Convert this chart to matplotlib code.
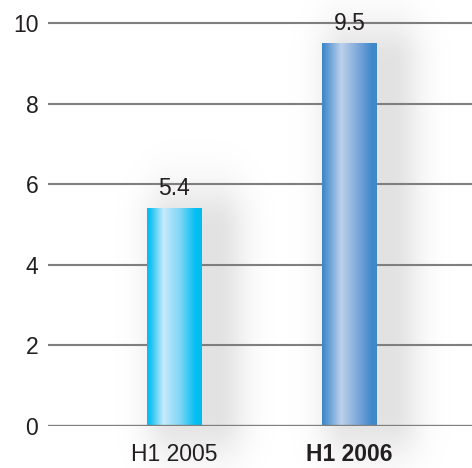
import numpy as np
import matplotlib
matplotlib.use('Agg')
import matplotlib.pyplot as plt
from matplotlib.colors import LinearSegmentedColormap

categories = ['H1 2005', 'H1 2006']
values = [5.4, 9.5]
value_labels = ['5.4', '9.5']
yticks = [0, 2, 4, 6, 8, 10]

plt.rcParams['font.family'] = ['Liberation Sans', 'DejaVu Sans']

bar_cmaps = [
    LinearSegmentedColormap.from_list('b1', [(0, '#00bdf2'), (0.08, '#20c4f3'), (0.3, '#c8ebfa'),
                                             (0.6, '#7fd6f6'), (0.88, '#05bef2'), (1, '#00bcf1')]),
    LinearSegmentedColormap.from_list('b2', [(0, '#3a86c8'), (0.1, '#5c9ad2'), (0.35, '#bdd1eb'),
                                             (0.65, '#7ea9db'), (0.9, '#4289cb'), (1, '#3e88ca')]),
]

fig = plt.figure(figsize=(4.72, 4.68), dpi=100)
ax = fig.add_axes((48 / 472, (468 - 426) / 468, 424 / 472, 0.92))
width = 0.31
ax.set_xlim(-0.72, 1.70)
ax.set_ylim(0, 0.92 * 468 / 40.3)

# soft grey shadow behind bars
xs = np.linspace(-0.72, 1.70, 500)
ys = np.linspace(-1.5, 11.5, 400)
X, Y = np.meshgrid(xs, ys)
shade = np.zeros_like(X)
for i, v in enumerate(values):
    cx = i + 0.12
    dx = np.maximum(np.abs(X - cx) - 0.12, 0)
    dy = np.maximum(np.maximum(Y - (v - 0.5), -Y + 0.3), 0)
    shade = np.maximum(shade, np.exp(-(dx / 0.17) ** 2 - (dy / 1.1) ** 2))
rgba = np.zeros(X.shape + (4,))
rgba[..., :3] = 0.55
rgba[..., 3] = shade * 0.25
ax.imshow(rgba, extent=(xs[0], xs[-1], ys[0], ys[-1]), origin='lower', aspect='auto',
          zorder=0.5, interpolation='bilinear', clip_on=False)

for y in yticks[1:]:
    ax.axhline(y, color='#7f7f80', lw=1.5, zorder=1)
ax.axhline(0, color='#7f7f80', lw=2.4, zorder=3)

grad = np.linspace(0, 1, 256).reshape(1, -1)
for i, v in enumerate(values):
    ax.imshow(grad, cmap=bar_cmaps[i], extent=(i - width / 2, i + width / 2, 0, v),
              aspect='auto', zorder=2, interpolation='bilinear')
    ax.text(i, v + 0.2, value_labels[i], ha='center', va='bottom', fontsize=16.5, color='#231f20')

ax.set_yticks(yticks)
ax.set_yticklabels([str(t) for t in yticks], fontsize=16.5, color='#231f20')
ax.set_xticks(range(len(categories)))
ax.set_xticklabels(categories, fontsize=16.5, color='#231f20')
ax.get_xticklabels()[1].set_fontweight('bold')
ax.tick_params(length=0)
ax.tick_params(axis='y', pad=7)
ax.tick_params(axis='x', pad=12)
for s in ax.spines.values():
    s.set_visible(False)

fig.savefig('out.png', dpi=100)
